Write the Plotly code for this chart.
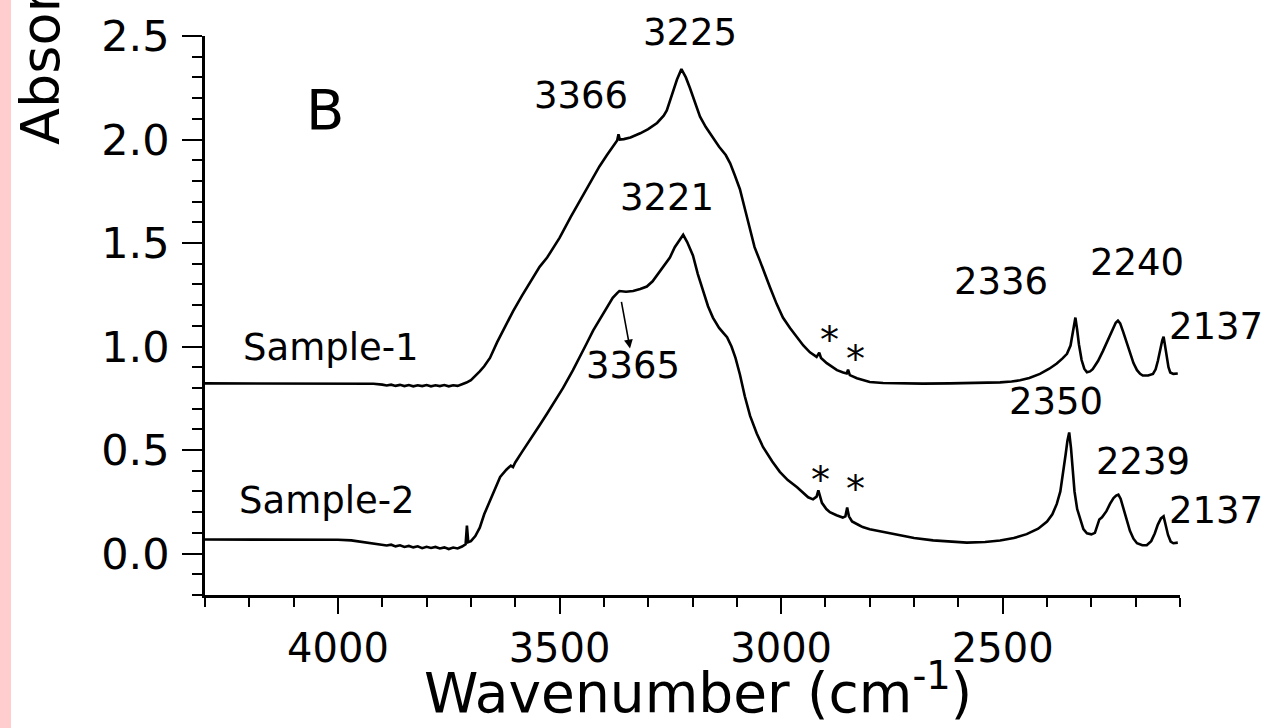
import plotly.graph_objects as go

# ---- spectra: wavenumber (cm-1) and absorbance ----
s1_wn = [4300, 4200, 4100, 4000, 3950, 3920, 3900, 3890, 3880, 3870, 3860, 3850, 3840, 3830,
         3820, 3810, 3800, 3790, 3780, 3770, 3760, 3750, 3740, 3730, 3720, 3710, 3700, 3690,
         3680, 3670, 3657, 3641, 3620, 3605, 3585, 3567, 3545, 3528, 3500, 3475, 3454, 3440,
         3424, 3410, 3393, 3380, 3370, 3367, 3364, 3355, 3340, 3318, 3300, 3280, 3265, 3258,
         3250, 3244, 3235, 3225, 3215, 3206, 3195, 3183, 3170, 3161, 3140, 3125, 3115, 3105,
         3093, 3080, 3070, 3060, 3048, 3036, 3025, 3010, 2996, 2980, 2964, 2950, 2935, 2920,
         2914, 2910, 2897, 2885, 2874, 2860, 2852, 2849, 2845, 2829, 2815, 2800, 2770, 2732,
         2680, 2619, 2560, 2506, 2480, 2461, 2440, 2416, 2395, 2378, 2365, 2355, 2347, 2341,
         2336, 2332, 2328, 2322, 2316, 2310, 2303, 2297, 2285, 2274, 2262, 2251, 2245, 2240,
         2235, 2228, 2220, 2213, 2205, 2197, 2190, 2184, 2172, 2161, 2155, 2150, 2145, 2140,
         2137, 2134, 2130, 2126, 2122, 2115, 2105]
s1_abs = [0.822, 0.822, 0.823, 0.822, 0.823, 0.820, 0.816, 0.812, 0.816, 0.810, 0.815, 0.809, 0.814, 0.808,
          0.813, 0.809, 0.814, 0.808, 0.813, 0.809, 0.814, 0.808, 0.813, 0.810, 0.818, 0.826, 0.838, 0.857,
          0.880, 0.905, 0.945, 1.020, 1.110, 1.170, 1.245, 1.310, 1.385, 1.430, 1.525, 1.625, 1.705, 1.760,
          1.820, 1.870, 1.925, 1.965, 1.995, 2.025, 2.000, 2.002, 2.010, 2.030, 2.050, 2.080, 2.115, 2.140,
          2.190, 2.235, 2.290, 2.340, 2.300, 2.250, 2.180, 2.110, 2.060, 2.030, 1.965, 1.925, 1.885, 1.830,
          1.760, 1.650, 1.560, 1.480, 1.415, 1.345, 1.285, 1.205, 1.140, 1.090, 1.045, 1.005, 0.972, 0.950,
          0.970, 0.945, 0.920, 0.900, 0.886, 0.875, 0.870, 0.888, 0.862, 0.847, 0.838, 0.829, 0.824, 0.822,
          0.821, 0.822, 0.823, 0.827, 0.831, 0.837, 0.848, 0.868, 0.893, 0.918, 0.943, 0.965, 1.005, 1.075,
          1.140, 1.080, 1.010, 0.935, 0.893, 0.876, 0.880, 0.891, 0.930, 0.978, 1.035, 1.085, 1.115, 1.125,
          1.112, 1.070, 1.015, 0.965, 0.920, 0.886, 0.868, 0.860, 0.860, 0.868, 0.890, 0.930, 0.985, 1.030,
          1.048, 1.010, 0.955, 0.900, 0.875, 0.868, 0.870]

s2_wn = [4300, 4200, 4100, 4000, 3970, 3950, 3930, 3910, 3900, 3890, 3880, 3870, 3860, 3850,
         3840, 3830, 3820, 3810, 3800, 3790, 3780, 3770, 3760, 3750, 3740, 3730, 3720, 3712,
         3709, 3706, 3700, 3690, 3680, 3670, 3657, 3645, 3634, 3620, 3610, 3605, 3600, 3585,
         3567, 3545, 3528, 3510, 3492, 3470, 3454, 3440, 3424, 3410, 3393, 3380, 3370, 3365,
         3350, 3334, 3318, 3303, 3290, 3280, 3265, 3251, 3240, 3230, 3221, 3212, 3204, 3199,
         3188, 3176, 3165, 3154, 3140, 3130, 3122, 3112, 3103, 3093, 3082, 3070, 3055, 3041,
         3020, 3003, 2985, 2964, 2950, 2939, 2928, 2920, 2916, 2912, 2908, 2898, 2890, 2875,
         2861, 2855, 2851, 2847, 2840, 2825, 2816, 2800, 2770, 2732, 2700, 2657, 2620, 2581,
         2540, 2506, 2475, 2446, 2420, 2400, 2388, 2378, 2370, 2364, 2358, 2354, 2350, 2346,
         2342, 2338, 2332, 2325, 2318, 2310, 2300, 2292, 2286, 2282, 2276, 2266, 2258, 2250,
         2244, 2239, 2234, 2228, 2220, 2213, 2205, 2197, 2185, 2175, 2165, 2157, 2150, 2143,
         2137, 2132, 2127, 2121, 2115, 2105]
s2_abs = [0.068, 0.068, 0.068, 0.067, 0.064, 0.058, 0.052, 0.046, 0.043, 0.039, 0.043, 0.035, 0.040, 0.032,
          0.037, 0.030, 0.035, 0.026, 0.033, 0.027, 0.032, 0.025, 0.030, 0.022, 0.029, 0.025, 0.034, 0.045,
          0.135, 0.055, 0.060, 0.085, 0.125, 0.190, 0.255, 0.320, 0.370, 0.405, 0.425, 0.418, 0.440, 0.490,
          0.546, 0.620, 0.677, 0.740, 0.800, 0.885, 0.948, 1.010, 1.078, 1.130, 1.190, 1.235, 1.258, 1.268,
          1.265, 1.268, 1.278, 1.290, 1.315, 1.345, 1.385, 1.430, 1.480, 1.515, 1.540, 1.505, 1.470, 1.440,
          1.350, 1.265, 1.195, 1.140, 1.090, 1.065, 1.045, 1.000, 0.945, 0.865, 0.760, 0.665, 0.580, 0.515,
          0.445, 0.395, 0.355, 0.320, 0.295, 0.272, 0.262, 0.275, 0.305, 0.270, 0.245, 0.215, 0.200, 0.185,
          0.174, 0.180, 0.222, 0.180, 0.155, 0.138, 0.128, 0.118, 0.105, 0.088, 0.075, 0.064, 0.057, 0.053,
          0.056, 0.063, 0.075, 0.094, 0.120, 0.155, 0.190, 0.240, 0.300, 0.380, 0.480, 0.545, 0.585, 0.510,
          0.390, 0.300, 0.215, 0.160, 0.118, 0.098, 0.093, 0.100, 0.140, 0.165, 0.175, 0.205, 0.240, 0.268,
          0.280, 0.285, 0.265, 0.220, 0.160, 0.110, 0.072, 0.050, 0.040, 0.040, 0.060, 0.097, 0.140, 0.170,
          0.180, 0.140, 0.090, 0.058, 0.050, 0.053]

# ---- peak labels (text, wavenumber position, absorbance position) ----
peak_text = ["3366", "3221", "3365", "2336", "2240", "2350", "2239"]
peak_x = [3452, 3258, 3334, 2504, 2197, 2380, 2184]
peak_y = [2.215, 1.719, 0.909, 1.315, 1.407, 0.733, 0.445]

# labels placed beyond the axis limits (paper x / paper y)
edge_text = ["3225", "2137", "2137"]

star_x = [2890, 2833, 2912, 2833]
star_y = [1.03, 0.94, 0.355, 0.312]

sample_names = ["Sample-1", "Sample-2"]
sample_x = [4015, 4025]
sample_y = [0.996, 0.256]

FONT = "DejaVu Sans"
BLACK = "#000000"
LABEL_SIZE = 37

fig = go.Figure()
for wn, ab, name in [(s1_wn, s1_abs, sample_names[0]), (s2_wn, s2_abs, sample_names[1])]:
    fig.add_trace(go.Scatter(x=wn, y=ab, mode="lines", name=name,
                             line=dict(color=BLACK, width=2.6), showlegend=False))


def label(text, x, y, xref="x", yref="y", size=LABEL_SIZE, **kw):
    return dict(text=text, x=x, y=y, xref=xref, yref=yref, showarrow=False,
                xanchor="center", yanchor="middle",
                font=dict(family=FONT, size=size, color=BLACK), **kw)


ann = [label(t, x, y) for t, x, y in zip(peak_text, peak_x, peak_y)]
ann.append(label(edge_text[0], 3206, 1.006, yref="paper"))
ann.append(label(edge_text[1], 1.037, 1.099, xref="paper"))
ann.append(label(edge_text[2], 1.037, 0.208, xref="paper"))
ann += [label("*", x, y, size=38) for x, y in zip(star_x, star_y)]
ann += [label(t, x, y) for t, x, y in zip(sample_names, sample_x, sample_y)]
ann.append(label("B", 4029, 2.147, size=56))
# arrow pointing at the 3365 shoulder label
ann.append(dict(text="", x=3341, y=0.991, ax=3361, ay=1.223, xref="x", yref="y",
                axref="x", ayref="y", showarrow=True, arrowhead=2, arrowsize=1.1,
                arrowwidth=1.6, arrowcolor=BLACK))
# axis titles
ann.append(label("Wavenumber (cm<sup>-1</sup>)", 0.506, -0.168, xref="paper", yref="paper", size=55))
ann.append(dict(text="Absorbance", x=-0.168, y=0.801, xref="paper", yref="paper",
                showarrow=False, textangle=-90, xanchor="center", yanchor="bottom",
                font=dict(family=FONT, size=54, color=BLACK)))

fig.update_layout(
    width=1278, height=728, autosize=False,
    margin=dict(l=205, r=98, t=36, b=133, pad=0),
    paper_bgcolor="white", plot_bgcolor="white",
    annotations=ann,
    shapes=[dict(type="rect", xref="paper", yref="paper", x0=-205 / 975, x1=(11 - 205) / 975,
                 y0=-133 / 559 - 0.01, y1=1 + 36 / 559 + 0.01, fillcolor="#FFCDCD",
                 line=dict(width=0), layer="below")],
)
fig.update_xaxes(range=[4300, 2100], showline=True, linewidth=2.5, linecolor=BLACK,
                 showgrid=False, zeroline=False, mirror=False,
                 ticks="outside", ticklen=16, tickwidth=2.2, tickcolor=BLACK,
                 tick0=0, dtick=500, tickformat="d",
                 tickfont=dict(family=FONT, size=40, color=BLACK),
                 minor=dict(ticks="outside", ticklen=9, tickwidth=2, tickcolor=BLACK,
                            tick0=0, dtick=100, showgrid=False))
fig.update_yaxes(range=[-0.2, 2.5], showline=True, linewidth=2.5, linecolor=BLACK,
                 showgrid=False, zeroline=False, mirror=False,
                 ticks="outside", ticklen=20, tickwidth=2.2, tickcolor=BLACK,
                 tick0=0, dtick=0.5, tickformat=".1f", ticklabelstandoff=4,
                 tickfont=dict(family=FONT, size=43, color=BLACK),
                 minor=dict(ticks="outside", ticklen=10, tickwidth=2, tickcolor=BLACK,
                            tick0=0, dtick=0.1, showgrid=False))

fig.write_html("out.html")
